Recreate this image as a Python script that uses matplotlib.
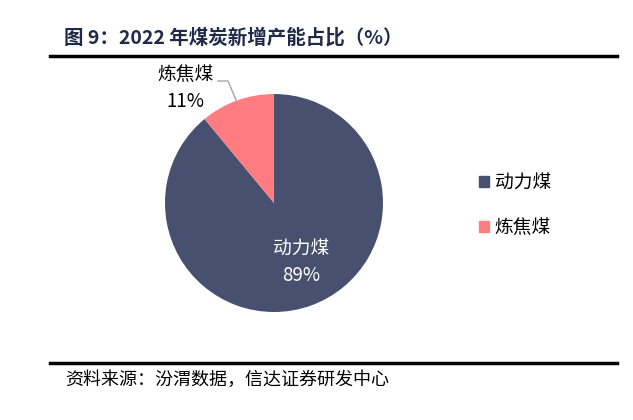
import matplotlib
matplotlib.use("Agg")
import matplotlib.pyplot as plt
from matplotlib.lines import Line2D
from matplotlib.patches import Patch

plt.rcParams['font.family'] = ['Noto Sans CJK SC', 'DejaVu Sans']

categories = ['动力煤', '炼焦煤']
values = [89, 11]
colors = ['#47506E', '#FF7C80']
title = '图 9：2022 年煤炭新增产能占比（%）'
source = '资料来源：汾渭数据，信达证券研发中心'

W, H = 633, 420
fig = plt.figure(figsize=(W/100, H/100), dpi=100)

# title and rules
fig.text(64/W, 1-38/H, title, fontsize=14, fontweight='bold', color='#1F2A4A',
         va='center', ha='left')
fig.add_artist(Line2D([50/W, 617/W], [1-56/H, 1-56/H], color='black', lw=2.5))
fig.add_artist(Line2D([50/W, 617/W], [1-363/H, 1-363/H], color='black', lw=2.5))
fig.text(65/W, 1-380/H, source, fontsize=13, color='black', va='center', ha='left')

cx, cy, r = 274, 203, 109
ax = fig.add_axes([(cx-r)/W, 1-(cy+r)/H, 2*r/W, 2*r/H])
wedges, _ = ax.pie(values, colors=colors, startangle=90, counterclock=False,
                   radius=1.0, wedgeprops=dict(linewidth=0))
ax.set_xlim(-1, 1)
ax.set_ylim(-1, 1)
ax.set_aspect('auto')
ax.axis('off')

# labels
ax.text(0.25, -0.54, f'{categories[0]}\n{values[0]}%', color='white', fontsize=13.5,
        ha='center', va='center', linespacing=1.4)
fig.text(185/W, 1-88/H, f'{categories[1]}\n{values[1]}%', color='black', fontsize=13.5,
         ha='center', va='center', linespacing=1.4)
fig.add_artist(Line2D([218/W, 228/W, 236/W], [1-81/H, 1-81/H, 1-100/H],
                      color='#A6A6A6', lw=1))

handles = [Patch(color=c, label=l) for c, l in zip(colors, categories)]
fig.legend(handles=handles, loc='center left', bbox_to_anchor=(462/W, 1-205/H),
           frameon=False, fontsize=13.5, handlelength=0.55, handleheight=0.55,
           handletextpad=0.3, labelspacing=1.3)

fig.savefig('out.png', dpi=100)
